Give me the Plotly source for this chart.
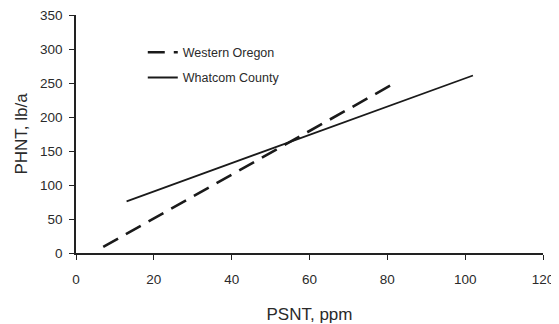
import plotly.graph_objects as go

# Data
series_names = ["Western Oregon", "Whatcom County"]
oregon_x = [7, 81]
oregon_y = [9, 247]
whatcom_x = [13, 102]
whatcom_y = [76, 261]

x_ticks = [0, 20, 40, 60, 80, 100, 120]
y_ticks = [0, 50, 100, 150, 200, 250, 300, 350]

FONT = "Liberation Sans, Arial, sans-serif"
INK = "#1a1a1a"
TXT = "#2a2a2a"

fig = go.Figure()
fig.add_trace(go.Scatter(
    x=oregon_x, y=oregon_y, mode="lines", name=series_names[0], legendgroup="a",
    line=dict(color=INK, width=2.6, dash="17px,9px"),
))
fig.add_trace(go.Scatter(
    x=whatcom_x, y=whatcom_y, mode="lines", name=series_names[1], legendgroup="b",
    line=dict(color=INK, width=1.8),
))

axis_common = dict(
    showgrid=False, zeroline=False, showline=True, linecolor="#222",
    linewidth=1.6, ticks="outside", ticklen=5, tickwidth=1.4, tickcolor="#222",
    tickfont=dict(family=FONT, size=13.5, color=TXT),
    automargin=False, ticklabeloverflow="allow",
)

# page body has an 8px default margin, so the figure is offset accordingly
fig.update_layout(
    width=551, height=316,
    margin=dict(l=68, r=16, t=7, b=71),
    paper_bgcolor="white", plot_bgcolor="white",
    font=dict(family=FONT, color=TXT),
    showlegend=True,
    legend=dict(
        x=0.143, y=0.905, xanchor="left", yanchor="top",
        bgcolor="rgba(0,0,0,0)", borderwidth=0,
        font=dict(family=FONT, size=12.5, color=TXT),
        tracegroupgap=6, itemwidth=30,
    ),
    xaxis=dict(
        range=[0, 120], tickvals=x_ticks, ticktext=[str(v) for v in x_ticks],
        title=dict(text="PSNT, ppm", font=dict(family=FONT, size=17, color=TXT), standoff=27),
        ticklabelstandoff=8,
        **axis_common,
    ),
    yaxis=dict(
        range=[0, 350], tickvals=y_ticks, ticktext=[str(v) for v in y_ticks],
        title=dict(text="PHNT, lb/a", font=dict(family=FONT, size=17, color=TXT), standoff=8),
        ticklabelstandoff=4,
        **axis_common,
    ),
)

fig.write_html("out.html")
